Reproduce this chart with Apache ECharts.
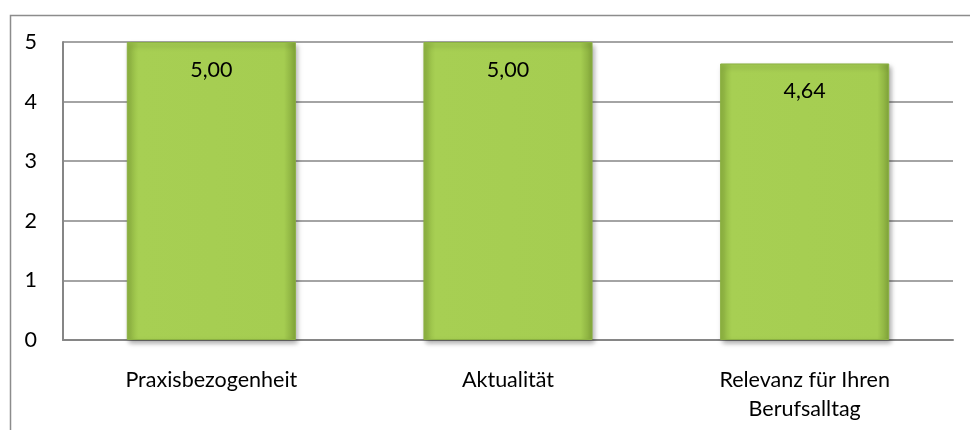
<!DOCTYPE html>
<html><head><meta charset="utf-8">
<script src="https://cdn.jsdelivr.net/npm/echarts@6/dist/echarts.min.js"></script>
<style>html,body{margin:0;padding:0;background:#fff}#c{width:970px;height:430px}</style>
</head><body><div id="c"></div>
<script>
const categories = ['Praxisbezogenheit', 'Aktualität', 'Relevanz für Ihren\nBerufsalltag'];
const values = [5.00, 5.00, 4.64];
const yTicks = [0, 1, 2, 3, 4, 5];

const chart = echarts.init(document.getElementById('c'));
const font = 'Lato, "Open Sans", sans-serif';
chart.setOption({
  animation: false,
  graphic: [{
    type: 'rect', left: 8, top: 13, silent: true,
    shape: { width: 1000, height: 460 },
    style: { fill: 'none', stroke: '#8c8c8c', lineWidth: 1.5 }
  }],
  grid: { left: 63, right: 17, top: 42, bottom: 90 },
  xAxis: {
    type: 'category', data: categories,
    axisLine: { lineStyle: { color: '#868686', width: 2 } },
    axisTick: { show: false },
    axisLabel: { color: '#000', fontSize: 21.5, fontFamily: font, margin: 26, lineHeight: 29, interval: 0 }
  },
  yAxis: {
    type: 'value', min: yTicks[0], max: yTicks[yTicks.length - 1], interval: 1,
    axisLine: { show: true, lineStyle: { color: '#868686', width: 2 } },
    axisTick: { show: false },
    splitLine: { lineStyle: { color: '#868686', width: 1.5 } },
    axisLabel: { color: '#000', fontSize: 21.5, fontFamily: font, margin: 26 }
  },
  series: [{
    type: 'bar', data: values, barWidth: '57%',
    itemStyle: {
      color: new echarts.graphic.LinearGradient(0, 0, 1, 0, [
        { offset: 0, color: '#8fb541' },
        { offset: 0.07, color: '#a7cf53' },
        { offset: 0.93, color: '#a5cd51' },
        { offset: 1, color: '#82a53a' }
      ]),
      borderColor: '#8bb142', borderWidth: 1,
      shadowColor: 'rgba(0,0,0,0.35)', shadowBlur: 5, shadowOffsetX: 2, shadowOffsetY: 3
    },
    label: {
      show: true, position: 'insideTop', distance: 17,
      color: '#000', fontSize: 21.5, fontFamily: font,
      formatter: p => p.value.toFixed(2).replace('.', ',')
    }
  }]
});
</script></body></html>
